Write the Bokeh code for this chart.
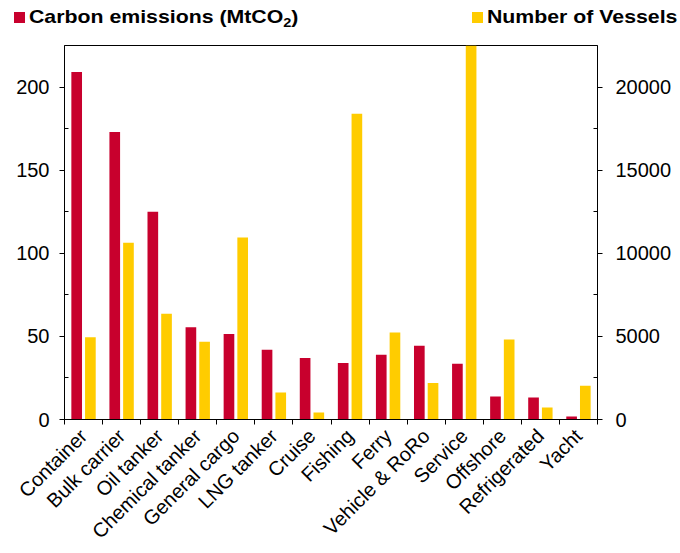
import numpy as np
from bokeh.plotting import figure
from bokeh.layouts import column
from bokeh.models import (Range1d, LinearAxis, FixedTicker, ColumnDataSource, Div)
from bokeh.transform import dodge
from bokeh.embed import file_html
from bokeh.resources import INLINE

categories = ["Container", "Bulk carrier", "Oil tanker", "Chemical tanker",
              "General cargo", "LNG tanker", "Cruise", "Fishing", "Ferry",
              "Vehicle & RoRo", "Service", "Offshore", "Refrigerated", "Yacht"]
emissions = [209, 173, 125, 55.5, 51.5, 42, 37, 34, 39, 44.3, 33.5, 13.8, 13.2, 1.8]
vessels = [4950, 10630, 6360, 4670, 10950, 1620, 420, 18400, 5230, 2190,
           22500, 4810, 720, 2030]
left_ticks = [0, 50, 100, 150, 200]
left_minor = [25, 75, 125, 175]
right_ticks = [0, 5000, 10000, 15000, 20000]
right_minor = [2500, 7500, 12500, 17500]
series_names = ["Carbon emissions (MtCO\u2082)", "Number of Vessels"]

RED = "#C8002D"
YELLOW = "#FFCC00"
FONT = "Liberation Sans"
TOP_H = 44

idx = list(range(len(categories)))
src = ColumnDataSource(dict(idx=idx, cat=categories, em=emissions, ves=vessels))

# ---------- legend strip (HTML, real text) ----------
def html_label(name):
    return name.replace("\u2082",
                        '<span style="font-size:13px;position:relative;top:4px">2</span>')

def legend_entry(name, color, left):
    return (f'<span style="position:absolute;left:{left}px;top:12px;width:11px;'
            f'height:11px;background:{color}"></span>'
            f'<span style="position:absolute;left:{left + 15}px;top:6px;line-height:22px;'
            f'white-space:nowrap;transform:scaleX(1.12);transform-origin:0 0">'
            f'{html_label(name)}</span>')

legend_html = (
    f'<div style="position:relative;width:680px;height:{TOP_H}px;'
    f"font-family:'{FONT}',Arial,sans-serif;font-weight:bold;font-size:19px;"
    f'color:#000;background:white">'
    + legend_entry(series_names[0], RED, 14)
    + legend_entry(series_names[1], YELLOW, 472)
    + '</div>')
legend_div = Div(text=legend_html, width=680, height=TOP_H, margin=0)

# ---------- main chart ----------
p = figure(width=680, height=553 - TOP_H, output_backend="svg", toolbar_location=None,
           x_range=Range1d(-0.5, len(categories) - 0.5), y_range=Range1d(0, 225),
           x_axis_type=None, y_axis_type=None,
           min_border_left=64, min_border_right=83, min_border_top=1,
           min_border_bottom=134)
p.extra_y_ranges = {"vessels": Range1d(0, 22500)}
p.xgrid.visible = False
p.ygrid.visible = False
p.outline_line_color = "black"
p.outline_line_width = 1
p.background_fill_color = "white"
p.border_fill_color = "white"

p.vbar(x=dodge("idx", -0.18, range=p.x_range), top="em", width=0.28,
       source=src, fill_color=RED, line_color=None)
p.vbar(x=dodge("idx", 0.18, range=p.x_range), top="ves", width=0.28,
       source=src, fill_color=YELLOW, line_color=None, y_range_name="vessels")

def style(ax, size="20px"):
    ax.axis_line_color = "black"
    ax.axis_line_width = 1
    ax.major_tick_line_color = "black"
    ax.minor_tick_line_color = "black"
    ax.major_label_text_font = FONT
    ax.major_label_text_font_size = size
    ax.major_label_text_color = "black"

xaxis = LinearAxis(
    ticker=FixedTicker(ticks=idx, minor_ticks=[i - 0.5 for i in range(len(categories) + 1)]),
    major_label_overrides={i: c for i, c in enumerate(categories)})
style(xaxis, "20px")
xaxis.major_tick_out = 0
xaxis.major_tick_in = 0
xaxis.minor_tick_out = 5
xaxis.minor_tick_in = 0
xaxis.major_label_orientation = np.pi / 4
xaxis.major_label_standoff = 8
p.add_layout(xaxis, "below")

yl = LinearAxis(ticker=FixedTicker(ticks=left_ticks, minor_ticks=left_minor))
style(yl)
yl.major_tick_out = 5
yl.major_tick_in = 0
yl.minor_tick_out = 0
yl.minor_tick_in = 4
yl.major_label_standoff = 10
p.add_layout(yl, "left")

yr = LinearAxis(y_range_name="vessels",
                ticker=FixedTicker(ticks=right_ticks, minor_ticks=right_minor))
style(yr)
yr.major_tick_out = 5
yr.major_tick_in = 0
yr.minor_tick_out = 0
yr.minor_tick_in = 4
yr.major_label_standoff = 13
p.add_layout(yr, "right")

layout = column(legend_div, p, spacing=0)
open("out.html", "w").write(file_html(layout, INLINE))
